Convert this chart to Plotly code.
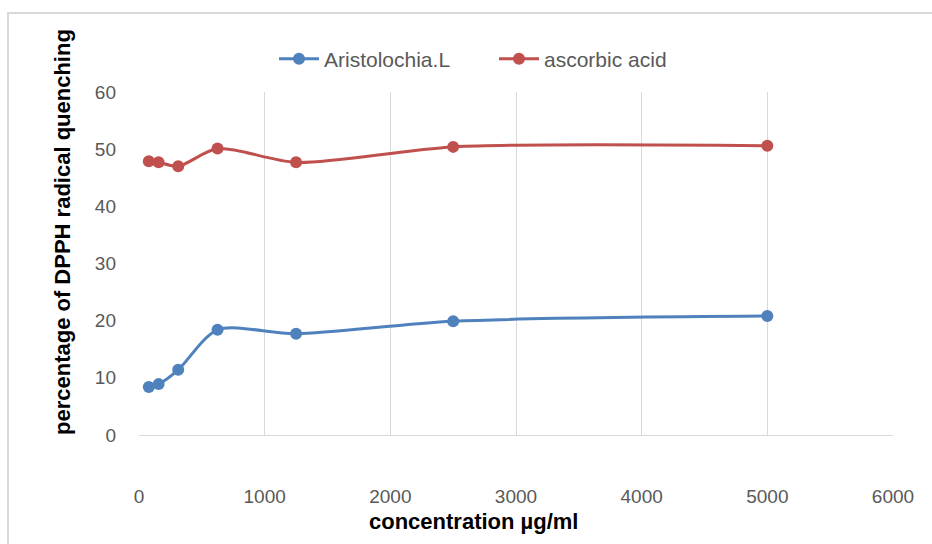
import plotly.graph_objects as go

# Concentrations (µg/ml) and DPPH radical quenching (%)
concentration = [78, 156, 312, 625, 1250, 2500, 5000]
aristolochia = [8.4, 8.9, 11.4, 18.4, 17.7, 19.9, 20.8]
ascorbic_acid = [47.9, 47.7, 47.0, 50.1, 47.7, 50.4, 50.6]

x_ticks = [0, 1000, 2000, 3000, 4000, 5000, 6000]
y_ticks = [0, 10, 20, 30, 40, 50, 60]

BLUE = "#4F81BD"
RED = "#C0504D"
TICK_GRAY = "#595959"
GRID = "#D9D9D9"

W, H = 932, 544
L, R, T, B = 139, 39, 92, 109
PW, PH = W - L - R, H - T - B


def px_x(px):
    return (px - L) / PW


def px_y(py):
    return (H - B - py) / PH


fig = go.Figure()
fig.add_trace(go.Scatter(
    x=concentration, y=aristolochia, name="Aristolochia.L",
    mode="lines+markers",
    line=dict(color=BLUE, width=3, shape="spline", smoothing=0.8),
    marker=dict(color=BLUE, size=12),
))
fig.add_trace(go.Scatter(
    x=concentration, y=ascorbic_acid, name="ascorbic acid",
    mode="lines+markers",
    line=dict(color=RED, width=3, shape="spline", smoothing=0.8),
    marker=dict(color=RED, size=12),
))

tick_font = dict(family="Liberation Sans, Arial, sans-serif", size=19, color=TICK_GRAY)
title_font = dict(family="Liberation Sans, Arial, sans-serif", size=22, color="#000000")

fig.update_layout(
    width=W, height=H,
    margin=dict(l=L, r=R, t=T, b=B, pad=0),
    paper_bgcolor="white", plot_bgcolor="white",
    showlegend=True,
    legend=dict(
        orientation="h", x=px_x(494), y=px_y(59), xanchor="center", yanchor="middle",
        font=dict(family="Liberation Sans, Arial, sans-serif", size=21, color=TICK_GRAY),
        itemwidth=40, entrywidth=165, entrywidthmode="pixels",
        tracegroupgap=0, bgcolor="rgba(0,0,0,0)",
    ),
    xaxis=dict(
        range=[0, 6000], tickvals=x_ticks, ticktext=[str(v) for v in x_ticks],
        showgrid=True, gridcolor=GRID, gridwidth=1,
        showline=True, linecolor=GRID, linewidth=1, mirror=False,
        zeroline=False, ticks="", tickfont=tick_font, ticklabelstandoff=44,
    ),
    yaxis=dict(
        range=[0, 60], tickvals=y_ticks, ticktext=[str(v) for v in y_ticks],
        showgrid=False, showline=False, zeroline=False, ticks="",
        tickfont=tick_font, ticklabelstandoff=22,
    ),
    annotations=[
        dict(text="<b>concentration µg/ml</b>", xref="paper", yref="paper",
             x=px_x(473), y=px_y(521), xanchor="center", yanchor="middle",
             showarrow=False, font=title_font),
        dict(text="<b>percentage of DPPH radical quenching</b>", xref="paper", yref="paper",
             x=px_x(62), y=px_y(232), xanchor="center", yanchor="middle",
             textangle=-90, showarrow=False, font=title_font),
    ],
    shapes=[
        dict(type="rect", xref="paper", yref="paper",
             x0=px_x(8), x1=px_x(945), y0=px_y(13), y1=px_y(560),
             line=dict(color="#D9D9D9", width=2), fillcolor="rgba(0,0,0,0)", layer="below"),
    ],
)

fig.write_html("out.html")
